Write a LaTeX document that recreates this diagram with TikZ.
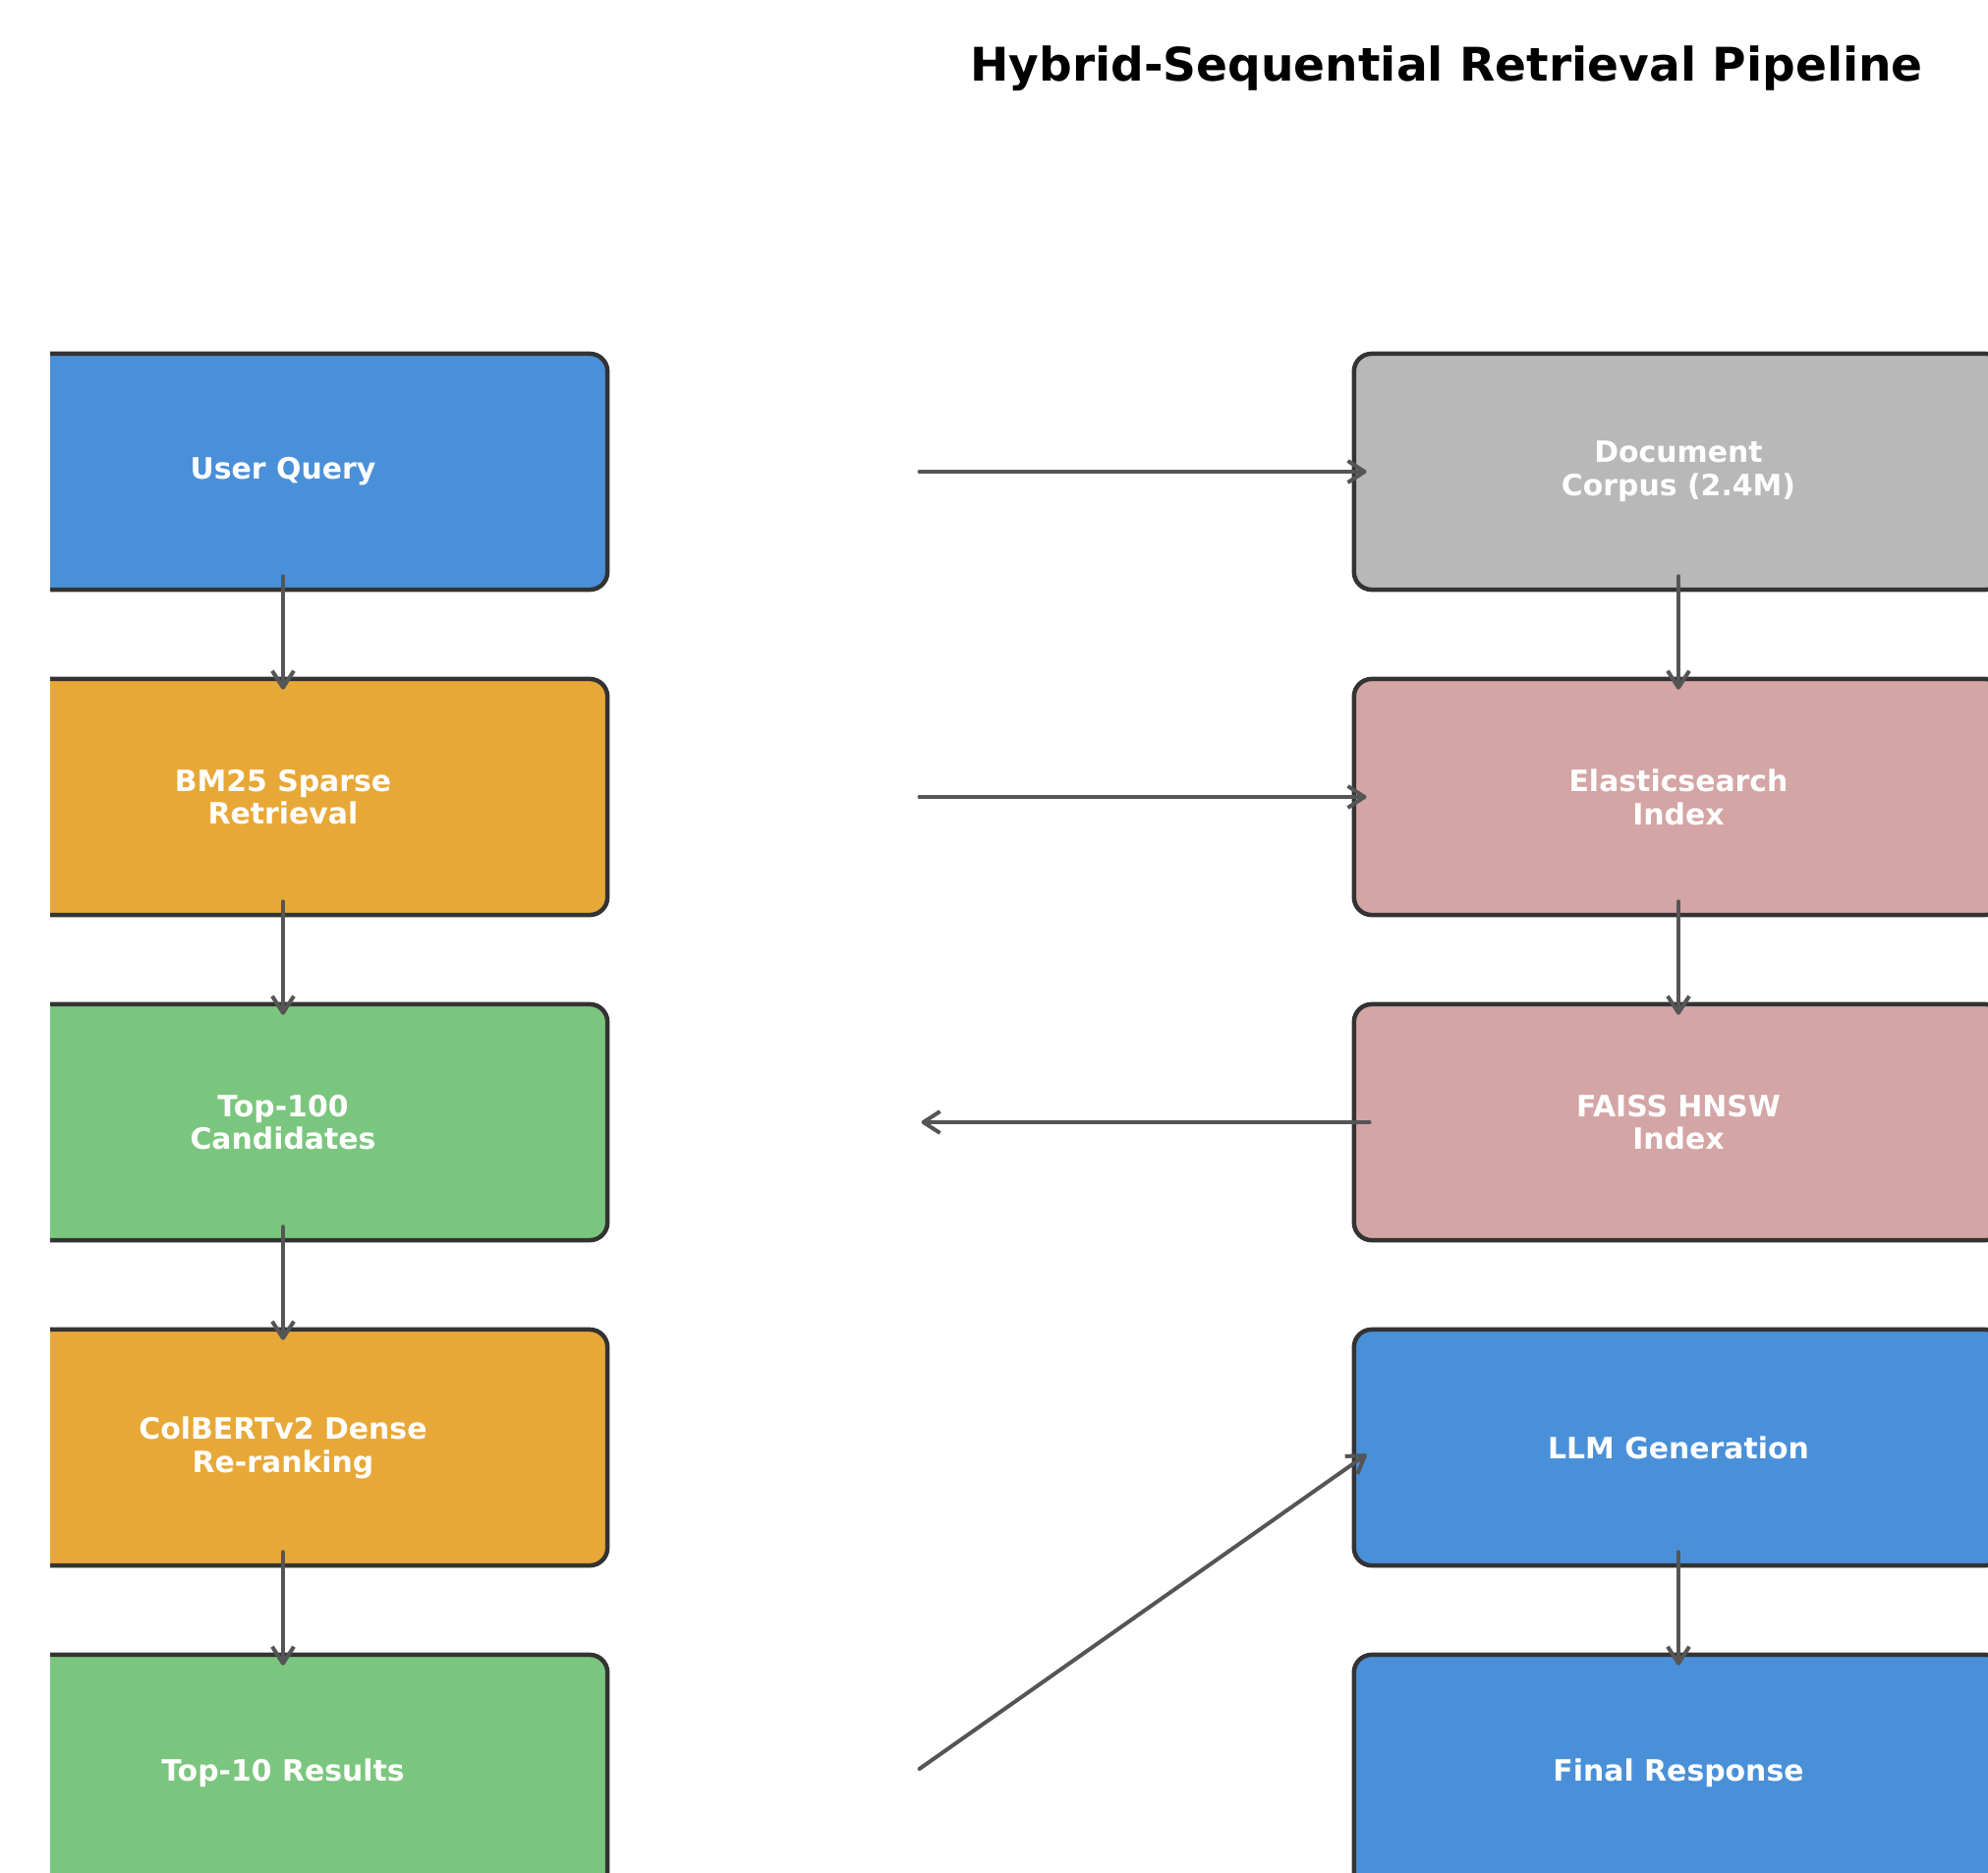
\documentclass[tikz,border=0pt]{standalone}
\usepackage{fontspec}
\setmainfont{DejaVu Sans}
\usetikzlibrary{arrows.meta}
\definecolor{qblue}{HTML}{4A90D9}
\definecolor{qorange}{HTML}{E8A838}
\definecolor{qgreen}{HTML}{7BC67E}
\definecolor{qgray}{HTML}{B8B8B8}
\definecolor{qpink}{HTML}{D4A5A5}
\definecolor{edge}{HTML}{333333}
\definecolor{wire}{HTML}{555555}
\begin{document}
\begin{tikzpicture}
[x=0.01cm,y=-0.01cm,
 every node/.style={draw=edge,line width=0.045cm,rounded corners=0.18cm,
   minimum width=6.6cm,minimum height=2.4cm,text=white,align=center,
   font=\fontsize{8.5}{9.6}\selectfont\bfseries},
 flow/.style={draw=wire,line width=0.04cm,line cap=round,
   -{Straight Barb[length=0.17cm,width=0.22cm,line join=round]}}]
\useasboundingbox (0,0) rectangle (2023,1906);
\node[draw=none,minimum size=0pt,text=black,anchor=base,
  font=\fontsize{13.4}{16}\selectfont\bfseries] (title) at (1472,83) {Hybrid-Sequential Retrieval Pipeline};
\begin{scope}
\clip (51,0) rectangle (2023,1906);
\node[fill=qblue] (q) at (288,480) {User Query};
\node[fill=qorange] (bm) at (288,811) {BM25 Sparse\\Retrieval};
\node[fill=qgreen] (top) at (288,1142) {Top-100\\Candidates};
\node[fill=qorange] (col) at (288,1473) {ColBERTv2 Dense\\Re-ranking};
\node[fill=qgreen] (res) at (288,1804) {Top-10 Results};
\node[fill=qgray] (doc) at (1708,480) {Document\\Corpus (2.4M)};
\node[fill=qpink] (es) at (1708,811) {Elasticsearch\\Index};
\node[fill=qpink] (faiss) at (1708,1142) {FAISS HNSW\\Index};
\node[fill=qblue] (llm) at (1708,1473) {LLM Generation};
\node[fill=qblue] (fin) at (1708,1804) {Final Response};
\end{scope}
\foreach \from/\to in {q/bm,bm/top,top/col,col/res,doc/es,es/faiss,llm/fin}
\draw[flow] ([yshift=0.16cm]\from.south) -- ([yshift=-0.13cm]\to.north);
\foreach \from/\to in {q/doc,bm/es}
\draw[flow] ([xshift=3.15cm]\from.east) -- ([xshift=0.15cm]\to.west);
\draw[flow] ([xshift=0.18cm]faiss.west) -- ([xshift=3.17cm]top.east);
\draw[flow] ([xshift=3.15cm,yshift=0.04cm]res.east) -- ([xshift=0.15cm,yshift=-0.07cm]llm.west);
\end{tikzpicture}
\end{document}
